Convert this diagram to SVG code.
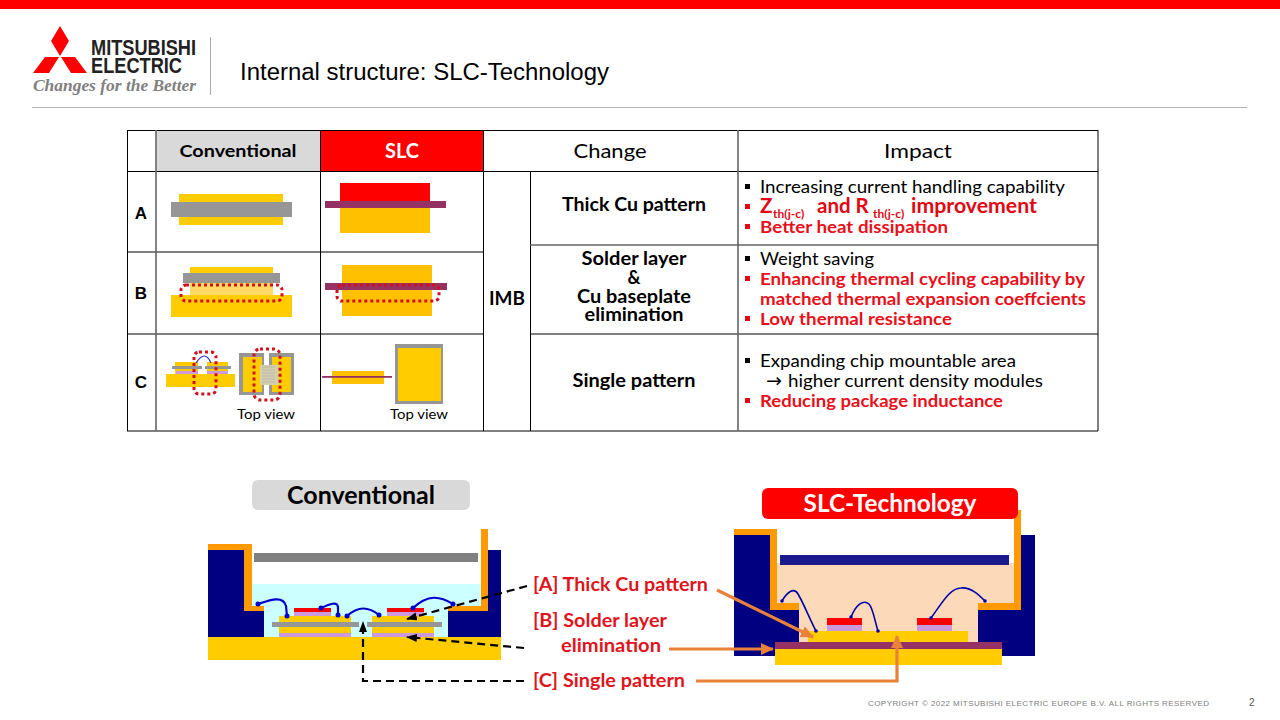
<svg xmlns="http://www.w3.org/2000/svg" width="1280" height="720" viewBox="0 0 1280 720">
<defs>
<style>
text{font-family:"Lato","Noto Sans",sans-serif;fill:#000}
.b{font-weight:700}
.c{text-anchor:middle}
.r{fill:#e30613}
.rr{fill:#e8101a;font-weight:700;font-size:17.5px}
.i{font-size:17.5px}
.h{font-size:20px;text-anchor:middle}
.m{font-size:18px;font-weight:700;text-anchor:middle}
.l{font-size:18.5px;font-weight:700;fill:#e0141c}
.abc{font-family:"Liberation Sans",Arial,sans-serif;font-weight:700;font-size:17px;text-anchor:middle}
.tv{font-size:13.5px}
.tl{stroke:#000;stroke-width:1;fill:none}
.tg{stroke:#666;stroke-width:1.6;fill:none}
.dot{fill:none;stroke:#d0101c;stroke-width:3;stroke-dasharray:3 3}
.y{fill:#ffcc00}.yo{fill:#ffc000}.g{fill:#969696}.p{fill:#953163}.s{fill:#cc99dd}.red{fill:#ff0000}
.navy{fill:#000080}.or{fill:#ff9900}
.w1{fill:none;stroke:#0000cc;stroke-width:2.2;stroke-linecap:round}
.w2{fill:none;stroke:#0000aa;stroke-width:1.6;stroke-linecap:round}
.d1{fill:#0000cc}.d2{fill:#0000aa}
.dash{fill:none;stroke:#000;stroke-width:2.2;stroke-dasharray:8 5}
.oa{fill:none;stroke:#e8823a;stroke-width:3.2}
.bk{fill:#000}.bu{fill:#e30613}
</style>
<marker id="ab" markerUnits="userSpaceOnUse" markerWidth="12" markerHeight="10" refX="10" refY="4" orient="auto"><path d="M0 0L11 4L0 8Z" fill="#000"/></marker>
<marker id="ao" markerUnits="userSpaceOnUse" markerWidth="14" markerHeight="14" refX="12" refY="6" orient="auto"><path d="M0 0L13 6L0 12Z" fill="#e8823a"/></marker>
</defs>
<rect width="1280" height="720" fill="#fff"/>
<g id="header">
<rect width="1280" height="9" fill="#ff0000"/>
<g id="logo">
<path class="red" d="M60 26L69 41L60 56L51 41ZM59 57L45 57L33 73L49 73ZM61 57L75 57L87 73L71 73Z"/>
<text x="91" y="55" font-size="22" class="b" style="font-family:'Liberation Sans',sans-serif;fill:#222" textLength="105" lengthAdjust="spacingAndGlyphs">MITSUBISHI</text>
<text x="91" y="72.500" font-size="22" class="b" style="font-family:'Liberation Sans',sans-serif;fill:#222" textLength="91" lengthAdjust="spacingAndGlyphs">ELECTRIC</text>
<text x="33" y="91" font-size="17" style="font-family:'Liberation Serif',serif;font-weight:700;font-style:italic;fill:#808080" textLength="163" lengthAdjust="spacingAndGlyphs">Changes for the Better</text>
</g>
<rect x="210" y="37" width="1" height="58" fill="#aaa"/>
<text x="240" y="80" font-size="23" style="font-family:'Liberation Sans',sans-serif" textLength="369" lengthAdjust="spacingAndGlyphs">Internal structure: SLC-Technology</text>
<rect x="32" y="107" width="1215" height="1" fill="#b0b0b0"/>
</g>
<g id="table">
<rect x="156" y="131" width="164" height="40.500" fill="#d9d9d9"/>
<rect x="320" y="131" width="163" height="40.500" fill="#ff0000"/>
<path class="tl" d="M127 130.500H1098M127 171.500H1098M127 252H483M127 334H483M530 334H1098M127 431H1098M127.500 130V431M320.500 130V431M483.500 130V431M530.500 171V431M1098 130V431"/>
<path class="tg" d="M156 130V431M738 130V431M530 245H1098"/>
<text class="b c" x="238" y="157" font-size="17.500" textLength="117" lengthAdjust="spacingAndGlyphs">Conventional</text>
<text class="b c" x="402" y="158" font-size="20" style="fill:#fff">SLC</text>
<text class="h" x="610" y="158" textLength="73" lengthAdjust="spacingAndGlyphs">Change</text>
<text class="h" x="918" y="158" textLength="68" lengthAdjust="spacingAndGlyphs">Impact</text>
<text class="abc" x="141" y="219">A</text>
<text class="abc" x="141" y="299">B</text>
<text class="abc" x="141" y="388">C</text>
<text class="m" x="507" y="305" textLength="36" lengthAdjust="spacingAndGlyphs">IMB</text>
<text class="m" x="634" y="211" textLength="144" lengthAdjust="spacingAndGlyphs">Thick Cu pattern</text>
<text class="m" x="634" y="265" textLength="105" lengthAdjust="spacingAndGlyphs">Solder layer</text>
<text class="m" x="634" y="284">&amp;</text>
<text class="m" x="634" y="303" textLength="114" lengthAdjust="spacingAndGlyphs">Cu baseplate</text>
<text class="m" x="634" y="321" textLength="99" lengthAdjust="spacingAndGlyphs">elimination</text>
<text class="m" x="634" y="387" textLength="123" lengthAdjust="spacingAndGlyphs">Single pattern</text>
<g id="bullets">
<rect class="bk" x="745" y="184" width="5" height="5"/>
<rect class="bu" x="745" y="204" width="5" height="5"/>
<rect class="bu" x="745" y="224" width="5" height="5"/>
<rect class="bk" x="745" y="256" width="5" height="5"/>
<rect class="bu" x="745" y="276" width="5" height="5"/>
<rect class="bu" x="745" y="316" width="5" height="5"/>
<rect class="bk" x="745" y="358" width="5" height="5"/>
<rect class="bu" x="745" y="398" width="5" height="5"/>
</g>
<text class="i" x="760" y="193" textLength="305" lengthAdjust="spacingAndGlyphs">Increasing current handling capability</text>
<text class="r b" x="760" y="213" font-size="20.500"><tspan>Z</tspan><tspan x="773" y="218" font-size="12">th(j-c)</tspan><tspan x="817" y="213">and R</tspan><tspan x="873" y="218" font-size="12">th(j-c)</tspan><tspan x="911" y="213" textLength="126" lengthAdjust="spacingAndGlyphs">improvement</tspan></text>
<text class="rr" x="760" y="233" textLength="188" lengthAdjust="spacingAndGlyphs">Better heat dissipation</text>
<text class="i" x="760" y="265" textLength="114" lengthAdjust="spacingAndGlyphs">Weight saving</text>
<text class="rr" x="760" y="285" textLength="325" lengthAdjust="spacingAndGlyphs">Enhancing thermal cycling capability by</text>
<text class="rr" x="760" y="305" textLength="326" lengthAdjust="spacingAndGlyphs">matched thermal expansion coeffcients</text>
<text class="rr" x="760" y="325" textLength="192" lengthAdjust="spacingAndGlyphs">Low thermal resistance</text>
<text class="i" x="760" y="367" textLength="256" lengthAdjust="spacingAndGlyphs">Expanding chip mountable area</text>
<text x="766" y="387" style="font-family:'DejaVu Sans',sans-serif;font-size:19px">→</text>
<text class="i" x="788" y="387" textLength="255" lengthAdjust="spacingAndGlyphs">higher current density modules</text>
<text class="rr" x="760" y="407" textLength="243" lengthAdjust="spacingAndGlyphs">Reducing package inductance</text>
</g>
<g id="cell-a-conv"><rect class="y" x="179" y="194" width="104" height="31"/><rect class="g" x="171" y="202" width="121" height="15"/></g>
<g id="cell-a-slc"><rect class="red" x="340" y="183" width="90" height="18"/><rect class="yo" x="340" y="208" width="90" height="25"/><rect class="p" x="325" y="201" width="121" height="7"/></g>
<g id="cell-b-conv"><rect class="y" x="190" y="267" width="83" height="6"/><rect fill="#ffd966" x="190" y="283" width="83" height="12"/><rect class="g" x="183" y="273" width="97" height="10"/><rect class="y" x="171" y="295" width="121" height="22"/><rect class="dot" x="181" y="285" width="101" height="16" rx="5"/></g>
<g id="cell-b-slc"><rect class="yo" x="342" y="265" width="90" height="51"/><rect class="p" x="325" y="283" width="122" height="7"/><rect class="dot" x="337" y="285" width="102" height="16" rx="5"/></g>
<g id="cell-c-conv">
<rect class="y" x="166" y="374" width="69" height="13"/>
<rect class="y" x="175" y="362" width="23" height="12"/><rect class="y" x="207" y="362" width="21" height="12"/>
<rect class="s" x="176" y="371" width="22" height="3"/><rect class="s" x="207" y="371" width="21" height="3"/>
<rect class="g" x="172" y="366" width="30" height="3"/><rect class="g" x="205" y="366" width="26" height="3"/>
<path d="M196 363Q205 349 211 363" fill="none" stroke="#3333cc" stroke-width="1.2"/>
<rect class="dot" x="194" y="352" width="22" height="42" rx="5"/>
<rect class="g" x="239" y="353" width="25" height="42"/><rect class="g" x="269" y="353" width="25" height="42"/>
<rect class="y" x="243" y="357" width="19" height="35"/><rect class="y" x="272" y="357" width="19" height="35"/>
<rect fill="#d6cfa8" x="260" y="365" width="19" height="20"/>
<path d="M262 367H275M262 370H275M262 373H275M262 376H275M262 379H275M262 382H275" stroke="#b8b8b8" stroke-width="1.2" fill="none"/>
<rect class="dot" x="254" y="349" width="26" height="51" rx="6"/>
<text class="tv" x="237" y="419" textLength="58" lengthAdjust="spacingAndGlyphs">Top view</text>
</g>
<g id="cell-c-slc">
<rect class="yo" x="332" y="371" width="52" height="13"/><rect class="p" x="322" y="376" width="70" height="1.800"/>
<rect class="g" x="395" y="344" width="48" height="60"/><rect class="y" x="398" y="348" width="43" height="53"/>
<text class="tv" x="390" y="419" textLength="58" lengthAdjust="spacingAndGlyphs">Top view</text>
</g>
<g id="conventional-title"><rect x="252" y="480" width="218" height="30" rx="6" fill="#d9d9d9"/><text class="b c" x="361" y="504" font-size="24" textLength="148" lengthAdjust="spacingAndGlyphs">Conventional</text></g>
<g id="conventional-module">
<path fill="#ccffff" d="M252 584H481V606H448V637H264V610H252Z"/>
<path class="navy" d="M208 550H244V610H264V637H208Z"/>
<path class="navy" d="M488 550H501V637H448V610H488Z"/>
<path class="or" d="M208 544H252V606H264V611H244V550H208Z"/>
<path class="or" d="M481 529H488V611H448V606H481Z"/>
<rect x="254" y="553" width="224" height="9" fill="#808080"/>
<rect class="y" x="208" y="637" width="293" height="23"/>
<rect class="y" x="279" y="616" width="72" height="21"/><rect class="s" x="279" y="633" width="72" height="4"/><rect class="g" x="272" y="622" width="87" height="5"/>
<rect class="y" x="372" y="616" width="62" height="21"/><rect class="s" x="372" y="633" width="62" height="4"/><rect class="g" x="367" y="622" width="75" height="5"/>
<rect class="s" x="294" y="612" width="37" height="4"/><rect class="red" x="294" y="608" width="37" height="4"/>
<rect class="s" x="387" y="612" width="37" height="4"/><rect class="red" x="387" y="608" width="37" height="4"/>
<path class="w1" d="M258 604C270 600 283 595 286 606L287 616"/>
<path class="w1" d="M321 608C330 604 337 601 338 607L338 615"/>
<path class="w1" d="M347 616C358 606 368 606 379 615"/>
<path class="w1" d="M413 608C428 594 440 596 453 604"/>
<g class="d1"><circle cx="258" cy="604" r="2.500"/><circle cx="287" cy="616" r="2.500"/><circle cx="321" cy="608" r="2.500"/><circle cx="338" cy="615" r="2.500"/><circle cx="347" cy="616" r="2.500"/><circle cx="379" cy="615" r="2.500"/><circle cx="413" cy="608" r="2.500"/><circle cx="453" cy="604" r="2.500"/></g>
</g>
<g id="slc-module">
<path fill="#fcd9b8" d="M777 563H1014V603H978V642H799V603H777Z"/>
<path class="navy" d="M734 535H770V610H799V656H734Z"/>
<path class="navy" d="M1021 535H1035V656H978V610H1021Z"/>
<path class="or" d="M734 529H777V603H799V610H770V535H734Z"/>
<path class="or" d="M1014 510H1021V610H978V603H1014Z"/>
<rect x="780" y="555" width="229" height="10" fill="#1a1a8c"/>
<rect class="y" x="775" y="649" width="227" height="16"/>
<rect class="p" x="775" y="642" width="227" height="7"/>
<rect class="y" x="808" y="631" width="160" height="11"/>
<rect class="s" x="827" y="625" width="35" height="6"/><rect class="red" x="827" y="618" width="35" height="7"/>
<rect class="s" x="917" y="625" width="35" height="6"/><rect class="red" x="917" y="618" width="35" height="7"/>
<path class="w2" d="M782 601C787 592 794 587 798 594C804 604 810 620 816 631"/>
<path class="w2" d="M851 617C856 605 863 599 869 604C873 608 875 622 878 631"/>
<path class="w2" d="M931 618C942 603 950 588 961 588C971 587 979 595 985 601"/>
<g class="d2"><circle cx="782" cy="601" r="1.800"/><circle cx="816" cy="631" r="1.800"/><circle cx="851" cy="617" r="1.800"/><circle cx="878" cy="631" r="1.800"/><circle cx="931" cy="618" r="1.800"/><circle cx="985" cy="601" r="1.800"/></g>
</g>
<g id="slc-title"><rect x="762" y="488" width="256" height="31" rx="6" fill="#ff0000"/><text class="b c" x="890" y="512" font-size="24" style="fill:#fff" textLength="173" lengthAdjust="spacingAndGlyphs">SLC-Technology</text></g>
<g id="connectors">
<path class="dash" d="M527 586L407 619" marker-end="url(#ab)"/>
<path class="dash" d="M524 648L407 637" marker-end="url(#ab)"/>
<path class="dash" d="M524 681H363V622" marker-end="url(#ab)"/>
<path class="oa" d="M717 590L813 637" marker-end="url(#ao)"/>
<path class="oa" d="M669 649H773" marker-end="url(#ao)"/>
<path class="oa" d="M696 681H897V636" marker-end="url(#ao)"/>
</g>
<g id="labels">
<text class="l" x="533" y="591" textLength="175" lengthAdjust="spacingAndGlyphs">[A] Thick Cu pattern</text>
<text class="l" x="533" y="627" textLength="134" lengthAdjust="spacingAndGlyphs">[B] Solder layer</text>
<text class="l" x="561" y="652" textLength="100" lengthAdjust="spacingAndGlyphs">elimination</text>
<text class="l" x="533" y="687" textLength="152" lengthAdjust="spacingAndGlyphs">[C] Single pattern</text>
</g>
<g id="footer">
<text x="868" y="706" font-size="8" style="font-family:'Liberation Sans',sans-serif;fill:#808080" textLength="341" lengthAdjust="spacing">COPYRIGHT © 2022 MITSUBISHI ELECTRIC EUROPE B.V. ALL RIGHTS RESERVED</text>
<text x="1249" y="706" font-size="10" style="font-family:'Liberation Sans',sans-serif;fill:#555">2</text>
</g>
</svg>
